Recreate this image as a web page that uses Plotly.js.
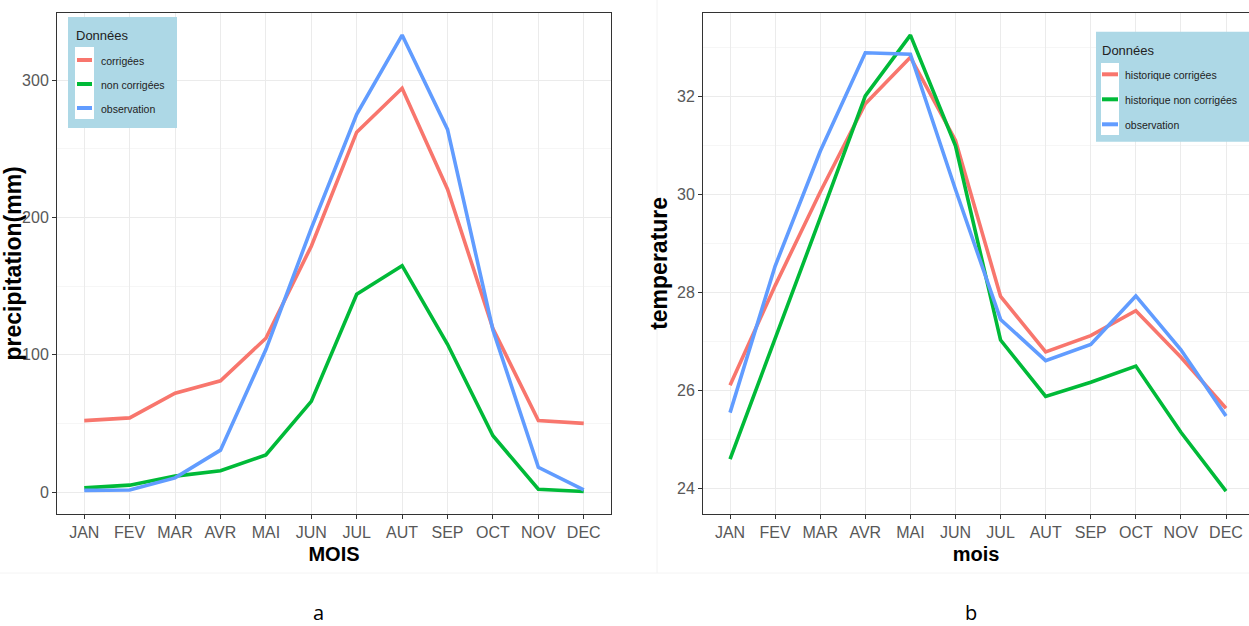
<!DOCTYPE html>
<html>
<head>
<meta charset="utf-8">
<script src="https://cdn.plot.ly/plotly-3.0.1.min.js"></script>
<style>
  html, body { margin: 0; padding: 0; background: #ffffff; }
  #chart { width: 1249px; height: 626px; }
</style>
</head>
<body>
<div id="chart"></div>
<script>
// Monthly climatology: precipitation (panel a) and temperature (panel b)
const months = ['JAN', 'FEV', 'MAR', 'AVR', 'MAI', 'JUN', 'JUL', 'AUT', 'SEP', 'OCT', 'NOV', 'DEC'];

// Panel a — precipitation (mm)
const precipNames = ['corrigées', 'non corrigées', 'observation'];
const precipCorrigees    = [52, 54, 72, 81, 112, 179, 262, 294, 220.5, 119, 52, 50];
const precipNonCorrigees = [3, 5, 11.6, 15.5, 27, 66, 144, 164.8, 107.6, 41, 2, 0.4];
const precipObservation  = [1.2, 1.5, 10.3, 30.5, 103.7, 192, 275, 332.7, 264, 118, 18, 1.5];
const precipTicks = [0, 100, 200, 300];

// Panel b — temperature
const tempNames = ['historique corrigées', 'historique non corrigées', 'observation'];
const tempCorrigees    = [26.11, 28.14, 30.05, 31.85, 32.80, 31.10, 27.92, 26.79, 27.12, 27.63, 26.68, 25.64];
const tempNonCorrigees = [24.60, 27.05, 29.52, 32.01, 33.25, 30.99, 27.03, 25.88, 26.17, 26.50, 25.15, 23.95];
const tempObservation  = [25.55, 28.54, 30.88, 32.89, 32.86, 30.10, 27.45, 26.61, 26.94, 27.93, 26.83, 25.48];
const tempTicks = [24, 26, 28, 30, 32];

const panelLabels = ['a', 'b'];

// ggplot2 default discrete hues
const seriesColors = ['#F8766D', '#00BA38', '#619CFF'];

const W = 1249, H = 626;
const fx = p => p / W;          // pixel column -> paper x
const fy = p => 1 - p / H;      // pixel row -> paper y

const NARROW = "'Liberation Sans Narrow', 'Arial Narrow', 'Liberation Sans', Arial, sans-serif";
const SANS = "'Liberation Sans', Arial, sans-serif";

function lineTrace(x, y, name, color, xa, ya) {
  return {
    type: 'scatter', mode: 'lines', x: x, y: y, name: name,
    xaxis: xa, yaxis: ya, showlegend: false,
    line: { color: color, width: 3.6 },
    hoverinfo: 'x+y+name'
  };
}

const traces = [
  lineTrace(months, precipCorrigees, precipNames[0], seriesColors[0], 'x', 'y'),
  lineTrace(months, precipNonCorrigees, precipNames[1], seriesColors[1], 'x', 'y'),
  lineTrace(months, precipObservation, precipNames[2], seriesColors[2], 'x', 'y'),
  lineTrace(months, tempCorrigees, tempNames[0], seriesColors[0], 'x2', 'y2'),
  lineTrace(months, tempNonCorrigees, tempNames[1], seriesColors[1], 'x2', 'y2'),
  lineTrace(months, tempObservation, tempNames[2], seriesColors[2], 'x2', 'y2')
];

const yDomain = [fy(514), fy(12.7)];

function xAxis(domain, range, title, anchor) {
  return {
    domain: domain, anchor: anchor, type: 'category',
    categoryorder: 'array', categoryarray: months, range: range,
    showgrid: true, gridcolor: '#EBEBEB', gridwidth: 1,
    ticks: 'outside', ticklen: 4, tickwidth: 1, tickcolor: '#333333',
    tickfont: { family: NARROW, size: 16, color: '#585858' },
    showline: true, linecolor: '#333333', linewidth: 1, mirror: true,
    zeroline: false, fixedrange: true,
    title: { text: title, standoff: 6,
             font: { family: SANS, size: 20, color: '#000000', weight: 'bold' } }
  };
}

function yAxis(range, ticks, minorStep, title, anchor) {
  return {
    domain: yDomain, anchor: anchor, range: range,
    tickmode: 'array', tickvals: ticks,
    minor: { dtick: minorStep, tick0: ticks[0], showgrid: true,
             gridcolor: '#F2F2F2', gridwidth: 0.7, ticks: '' },
    showgrid: true, gridcolor: '#EBEBEB', gridwidth: 1,
    ticks: 'outside', ticklen: 4, tickwidth: 1, tickcolor: '#333333',
    tickfont: { family: NARROW, size: 16, color: '#585858' },
    showline: true, linecolor: '#333333', linewidth: 1, mirror: true,
    zeroline: false, fixedrange: true,
    title: { text: title, standoff: 2,
             font: { family: SANS, size: 23, color: '#000000', weight: 'bold' } }
  };
}

// Hand-built ggplot-style legend boxes (light-blue panel, white key column)
function legendBlock(spec, names) {
  const shapes = [], annotations = [];
  shapes.push({ type: 'rect', xref: 'paper', yref: 'paper', layer: 'above',
    x0: fx(spec.box[0]), x1: fx(spec.box[1]), y0: fy(spec.box[3]), y1: fy(spec.box[2]),
    fillcolor: '#ADD8E6', line: { width: 0 } });
  shapes.push({ type: 'rect', xref: 'paper', yref: 'paper', layer: 'above',
    x0: fx(spec.keyCol[0]), x1: fx(spec.keyCol[1]), y0: fy(spec.keyCol[3]), y1: fy(spec.keyCol[2]),
    fillcolor: '#FFFFFF', line: { width: 0 } });
  annotations.push({ xref: 'paper', yref: 'paper', x: fx(spec.title[0]), y: fy(spec.title[1]),
    xanchor: 'left', yanchor: 'middle', showarrow: false, text: 'Données',
    font: { family: NARROW, size: 13, color: '#222222' } });
  names.forEach((name, i) => {
    const yy = spec.firstKey + i * spec.keyStep;
    shapes.push({ type: 'line', xref: 'paper', yref: 'paper', layer: 'above',
      x0: fx(spec.keyLine[0]), x1: fx(spec.keyLine[1]), y0: fy(yy), y1: fy(yy),
      line: { color: seriesColors[i], width: 4 } });
    annotations.push({ xref: 'paper', yref: 'paper', x: fx(spec.labelX), y: fy(yy + 1),
      xanchor: 'left', yanchor: 'middle', showarrow: false, text: name,
      font: { family: NARROW, size: 10.5, color: '#222222' } });
  });
  return { shapes, annotations };
}

const legA = legendBlock({ box: [68, 177, 17, 128], keyCol: [75, 94, 47, 119], title: [74, 35],
  firstKey: 60, keyStep: 24, keyLine: [77, 92], labelX: 99 }, precipNames);
const legB = legendBlock({ box: [1096, 1262, 31.7, 141.7], keyCol: [1101, 1119, 63, 135], title: [1100, 50.7],
  firstKey: 74.3, keyStep: 25, keyLine: [1102, 1118], labelX: 1123 }, tempNames);

// Faint frame edges separating the two panels
const frameShapes = [
  { type: 'line', xref: 'paper', yref: 'paper', layer: 'below',
    x0: fx(657), x1: fx(657), y0: fy(0), y1: fy(573), line: { color: '#F2F2F2', width: 1 } },
  { type: 'line', xref: 'paper', yref: 'paper', layer: 'below',
    x0: 0, x1: 1, y0: fy(573), y1: fy(573), line: { color: '#F4F4F4', width: 1 } }
];

const labelAnnotations = [
  { xref: 'paper', yref: 'paper', x: fx(318), y: fy(612), xanchor: 'center', yanchor: 'middle',
    showarrow: false, text: panelLabels[0], font: { family: "'Open Sans', 'Noto Sans', sans-serif", size: 20, color: '#000000' } },
  { xref: 'paper', yref: 'paper', x: fx(971), y: fy(612), xanchor: 'center', yanchor: 'middle',
    showarrow: false, text: panelLabels[1], font: { family: "'Open Sans', 'Noto Sans', sans-serif", size: 20, color: '#000000' } }
];

const layout = {
  width: W, height: H,
  margin: { l: 0, r: 0, t: 0, b: 0, pad: 0 },
  paper_bgcolor: '#FFFFFF', plot_bgcolor: '#FFFFFF',
  showlegend: false,
  xaxis: xAxis([fx(57), fx(611)], [-0.6, 11.6], 'MOIS', 'y'),
  yaxis: yAxis([-16, 349], precipTicks, 50, 'precipitation(mm)', 'x'),
  xaxis2: xAxis([fx(703), 1], [-0.6, 11.51], 'mois', 'y2'),
  yaxis2: yAxis([23.482, 33.707], tempTicks, 1, 'temperature', 'x2'),
  shapes: frameShapes.concat(legA.shapes, legB.shapes),
  annotations: labelAnnotations.concat(legA.annotations, legB.annotations)
};

Plotly.newPlot('chart', traces, layout, { displayModeBar: false, staticPlot: true });
</script>
</body>
</html>
